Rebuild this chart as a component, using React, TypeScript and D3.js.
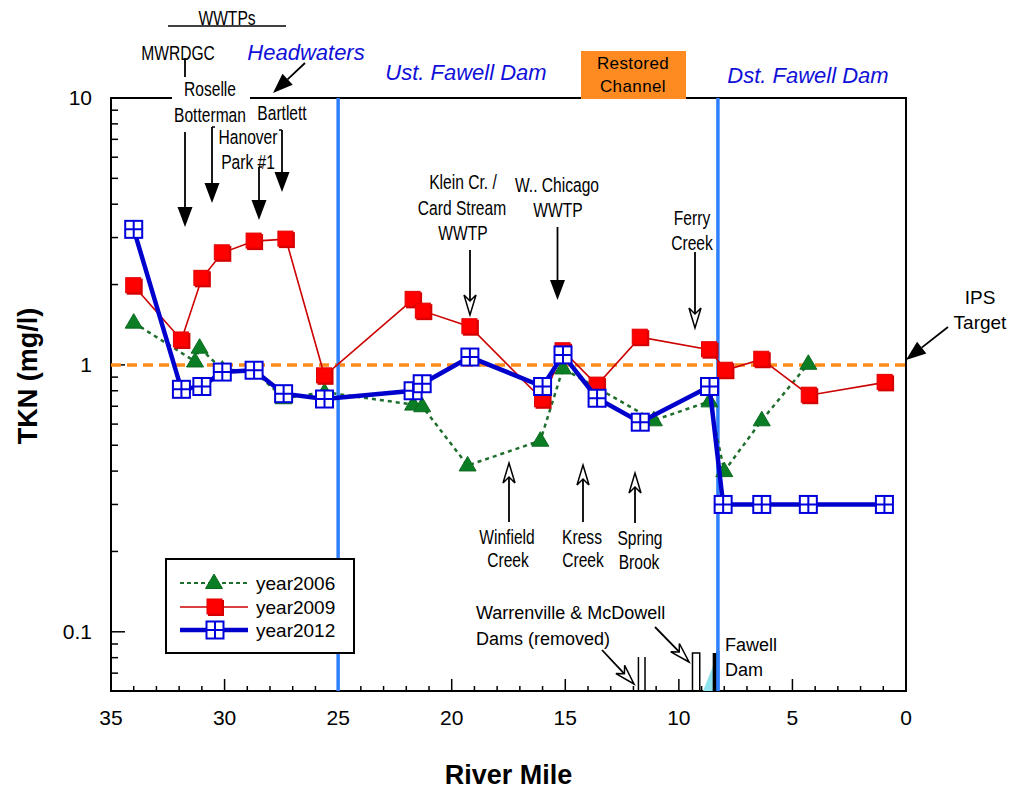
import * as d3 from "d3";
import {useEffect, useRef} from "react";

// TKN by river mile
const miles2006 = [34.0, 31.3, 31.1, 30.1, 28.7, 27.4, 25.6, 21.7, 21.3, 19.3, 16.1, 15.1, 11.1, 8.65, 8.0, 6.35, 4.3];
const tkn2006 = [1.44, 1.03, 1.16, 0.96, 0.95, 0.75, 0.79, 0.71, 0.70, 0.42, 0.52, 0.97, 0.62, 0.73, 0.40, 0.62, 1.01];

const miles2009 = [34.0, 31.9, 31.0, 30.1, 28.7, 27.3, 25.6, 21.7, 21.25, 19.2, 16.0, 15.1, 13.6, 11.7, 8.65, 7.95, 6.35, 4.26, 0.92];
const tkn2009 = [1.98, 1.24, 2.11, 2.63, 2.91, 2.96, 0.91, 1.76, 1.59, 1.39, 0.74, 1.13, 0.84, 1.27, 1.14, 0.955, 1.05, 0.77, 0.86];

const miles2012 = [34.0, 31.9, 31.0, 30.1, 28.7, 27.4, 25.6, 21.7, 21.3, 19.2, 16.0, 15.1, 13.6, 11.7, 8.65, 8.05, 6.35, 4.3, 0.95];
const tkn2012 = [3.22, 0.81, 0.83, 0.94, 0.955, 0.78, 0.745, 0.80, 0.85, 1.07, 0.83, 1.09, 0.75, 0.61, 0.83, 0.30, 0.30, 0.30, 0.30];

const seriesNames = ["year2006", "year2009", "year2012"];
const ipsTarget = 1;
const reachBounds = [25, 8.28];
const warrenvilleMiles = [11.78, 11.49];
const mcdowellMiles = [9.4, 9.08];
const fawellMile = 8.41;
const xTicks = [35, 30, 25, 20, 15, 10, 5, 0];
const yTickLabels = [0.1, 1, 10];

const FONT = "'Liberation Sans', Arial, sans-serif";

export default function App() {
    const svgRef = useRef(null);
    const width = 1012, height = 792;
    const margin = {top: 98, right: 106, bottom: 101, left: 111};

    useEffect(() => {
        if (!svgRef.current) return;
        d3.select(svgRef.current).selectAll("*").remove();
        const svg = d3.select(svgRef.current).style("font-family", FONT);

        const x = d3.scaleLinear().domain([35, 0]).range([margin.left, width - margin.right]);
        const y = d3.scaleLog().domain([0.06, 10]).range([height - margin.bottom, margin.top]);
        const [x0, x1] = x.range();
        const [yb, yt] = y.range();

        // arrows
        const filledArrow = (ax: number, ay: number, bx: number, by: number) => {
            const a = Math.atan2(by - ay, bx - ax), L = 20, W = 7.5;
            const cx = bx - L * Math.cos(a), cy = by - L * Math.sin(a);
            svg.append("line").attr("x1", ax).attr("y1", ay).attr("x2", cx).attr("y2", cy)
                .attr("stroke", "#000").attr("stroke-width", 1.8);
            svg.append("path")
                .attr("d", `M${bx},${by}L${cx - W * Math.sin(a)},${cy + W * Math.cos(a)}L${cx + W * Math.sin(a)},${cy - W * Math.cos(a)}Z`)
                .attr("fill", "#000");
        };
        const openArrow = (ax: number, ay: number, bx: number, by: number) => {
            const a = Math.atan2(by - ay, bx - ax), L = 20, W = 6, N = 6;
            const cx = bx - L * Math.cos(a), cy = by - L * Math.sin(a);
            const nx = bx - (L - N) * Math.cos(a), ny = by - (L - N) * Math.sin(a);
            svg.append("line").attr("x1", ax).attr("y1", ay).attr("x2", nx).attr("y2", ny)
                .attr("stroke", "#000").attr("stroke-width", 1.8);
            svg.append("path")
                .attr("d", `M${bx},${by}L${cx - W * Math.sin(a)},${cy + W * Math.cos(a)}L${nx},${ny}L${cx + W * Math.sin(a)},${cy - W * Math.cos(a)}Z`)
                .attr("fill", "#fff").attr("stroke", "#000").attr("stroke-width", 1.5).attr("stroke-linejoin", "miter");
        };
        const narrow = (tx: number, ty: number, s: string, size = 19.5) =>
            svg.append("text").attr("transform", `translate(${tx},${ty}) scale(0.8,1)`)
                .attr("text-anchor", "middle").attr("dy", "0.35em")
                .style("font-size", `${size}px`).attr("fill", "#000").text(s);

        // plot frame
        svg.append("rect").attr("x", x0).attr("y", yt).attr("width", x1 - x0).attr("height", yb - yt)
            .attr("fill", "#fff").attr("stroke", "#000").attr("stroke-width", 2);

        // x ticks (inward)
        d3.range(0, 36).forEach(m => {
            const len = m % 5 === 0 ? 12 : 5;
            svg.append("line").attr("x1", x(m)).attr("x2", x(m)).attr("y1", yb).attr("y2", yb - len)
                .attr("stroke", "#000").attr("stroke-width", 1.5);
        });
        xTicks.forEach(t => {
            svg.append("text").attr("x", x(t)).attr("y", yb + 27).attr("dy", "0.35em")
                .attr("text-anchor", "middle").style("font-size", "21px").text(t);
        });

        // y ticks (inward)
        const minor: number[] = [];
        [0.01, 0.1, 1].forEach(d => d3.range(1, 10).forEach(k => minor.push(k * d)));
        minor.push(10);
        minor.filter(v => v >= 0.06 && v <= 10).forEach(v => {
            const major = yTickLabels.includes(+v.toFixed(3));
            svg.append("line").attr("x1", x0).attr("x2", x0 + (major ? 14 : 7))
                .attr("y1", y(v)).attr("y2", y(v)).attr("stroke", "#000").attr("stroke-width", 1.5);
        });
        yTickLabels.forEach(t => {
            svg.append("text").attr("x", x0 - 19).attr("y", y(t)).attr("dy", "0.35em")
                .attr("text-anchor", "end").style("font-size", "21px").text(t);
        });

        // IPS target
        svg.append("line").attr("x1", x0).attr("x2", x1).attr("y1", y(ipsTarget)).attr("y2", y(ipsTarget))
            .attr("stroke", "#ff8c1a").attr("stroke-width", 3.5).attr("stroke-dasharray", "10,6");

        // reach boundaries
        reachBounds.forEach(m => {
            svg.append("line").attr("x1", x(m)).attr("x2", x(m)).attr("y1", yt).attr("y2", yb)
                .attr("stroke", "#2f80ff").attr("stroke-width", 3.5);
        });

        // dams
        warrenvilleMiles.forEach(m => {
            svg.append("line").attr("x1", x(m)).attr("x2", x(m)).attr("y1", yb).attr("y2", yb - 34)
                .attr("stroke", "#000").attr("stroke-width", 1.5);
        });
        svg.append("path")
            .attr("d", `M${x(mcdowellMiles[0])},${yb}V${yb - 38}H${x(mcdowellMiles[1])}V${yb}`)
            .attr("fill", "none").attr("stroke", "#000").attr("stroke-width", 1.5);
        svg.append("path")
            .attr("d", `M${x(fawellMile) - 12},${yb}L${x(fawellMile)},${yb - 30}V${yb}Z`)
            .attr("fill", "#8fe3ee");
        svg.append("rect").attr("x", x(fawellMile) - 2.3).attr("y", yb - 38).attr("width", 4.6).attr("height", 38)
            .attr("fill", "#000");
        svg.append("line").attr("x1", x(reachBounds[1])).attr("x2", x(reachBounds[1])).attr("y1", yb - 40).attr("y2", yb)
            .attr("stroke", "#2f80ff").attr("stroke-width", 3.5);

        // series
        const lineGen = d3.line<[number, number]>().x(d => x(d[0])).y(d => y(d[1]));
        const zip = (ms: number[], vs: number[]) => ms.map((m, i) => [m, vs[i]] as [number, number]);
        const d2006 = zip(miles2006, tkn2006);
        const d2009 = zip(miles2009, tkn2009);
        const d2012 = zip(miles2012, tkn2012);

        const triangle = (g: any, cx: number, cy: number) =>
            g.append("path").attr("d", `M${cx},${cy - 9}L${cx + 8.5},${cy + 5.5}L${cx - 8.5},${cy + 5.5}Z`)
                .attr("fill", "#0b7d24").attr("stroke", "#0a6a1e").attr("stroke-width", 1);
        const redSquare = (g: any, cx: number, cy: number) => {
            g.append("rect").attr("x", cx - 7).attr("y", cy - 7).attr("width", 16).attr("height", 16).attr("fill", "#d40000");
            g.append("rect").attr("x", cx - 8).attr("y", cy - 8).attr("width", 15).attr("height", 15)
                .attr("fill", "#ff0000").attr("stroke", "#e00000").attr("stroke-width", 1);
        };
        const gridSquare = (g: any, cx: number, cy: number) => {
            g.append("rect").attr("x", cx - 8.5).attr("y", cy - 8.5).attr("width", 17).attr("height", 17)
                .attr("fill", "#fff").attr("stroke", "#0000dd").attr("stroke-width", 2);
            g.append("path").attr("d", `M${cx - 8.5},${cy}H${cx + 8.5}M${cx},${cy - 8.5}V${cy + 8.5}`)
                .attr("stroke", "#0000dd").attr("stroke-width", 2);
        };

        const g06 = svg.append("g");
        g06.append("path").attr("d", lineGen(d2006)).attr("fill", "none")
            .attr("stroke", "#1f6e2e").attr("stroke-width", 2.5).attr("stroke-dasharray", "4,4");
        d2006.forEach(d => triangle(g06, x(d[0]), y(d[1])));

        const g09 = svg.append("g");
        g09.append("path").attr("d", lineGen(d2009)).attr("fill", "none")
            .attr("stroke", "#cc0000").attr("stroke-width", 1.6);
        d2009.forEach(d => redSquare(g09, x(d[0]), y(d[1])));

        const g12 = svg.append("g");
        g12.append("path").attr("d", lineGen(d2012)).attr("fill", "none")
            .attr("stroke", "#0000cc").attr("stroke-width", 4.5);
        d2012.forEach(d => gridSquare(g12, x(d[0]), y(d[1])));

        // legend
        const lg = svg.append("g");
        lg.append("rect").attr("x", 166).attr("y", 559).attr("width", 188).attr("height", 94)
            .attr("fill", "#fff").attr("stroke", "#000").attr("stroke-width", 2);
        const rows = [583, 607, 630];
        lg.append("line").attr("x1", 180).attr("x2", 248).attr("y1", rows[0]).attr("y2", rows[0])
            .attr("stroke", "#1f6e2e").attr("stroke-width", 2).attr("stroke-dasharray", "4,3");
        triangle(lg, 214, rows[0]);
        lg.append("line").attr("x1", 180).attr("x2", 248).attr("y1", rows[1]).attr("y2", rows[1])
            .attr("stroke", "#cc0000").attr("stroke-width", 1.6);
        redSquare(lg, 215, rows[1]);
        lg.append("line").attr("x1", 180).attr("x2", 248).attr("y1", rows[2]).attr("y2", rows[2])
            .attr("stroke", "#0000cc").attr("stroke-width", 4.5);
        gridSquare(lg, 215, rows[2]);
        seriesNames.forEach((s, i) => {
            lg.append("text").attr("x", 256).attr("y", rows[i]).attr("dy", "0.35em")
                .style("font-size", "19px").text(s);
        });

        // axis titles
        svg.append("text").attr("x", (x0 + x1) / 2).attr("y", 775).attr("dy", "0.35em").attr("text-anchor", "middle")
            .style("font-size", "27px").style("font-weight", "bold").text("River Mile");
        svg.append("text").attr("transform", `translate(37,376) rotate(-90)`).attr("text-anchor", "middle")
            .style("font-size", "27px").style("font-weight", "bold").text("TKN (mg/l)");

        // reach titles
        const blueTitle = (tx: number, ty: number, s: string) =>
            svg.append("text").attr("x", tx).attr("y", ty).attr("dy", "0.35em").attr("text-anchor", "middle")
                .style("font-size", "22px").style("font-style", "italic").attr("fill", "#1010d8").text(s);
        blueTitle(306, 52, "Headwaters");
        blueTitle(466, 72, "Ust. Fawell Dam");
        blueTitle(808, 75, "Dst. Fawell Dam");

        svg.append("rect").attr("x", 581).attr("y", 51).attr("width", 105).attr("height", 48).attr("fill", "#fd8b22");
        ["Restored", "Channel"].forEach((s, i) => {
            svg.append("text").attr("x", 633).attr("y", 63 + i * 23.5).attr("dy", "0.35em").attr("text-anchor", "middle")
                .style("font-size", "17px").style("letter-spacing", "0.4px").text(s);
        });

        // WWTP header
        narrow(227, 18, "WWTPs");
        svg.append("line").attr("x1", 168).attr("x2", 286).attr("y1", 26).attr("y2", 26)
            .attr("stroke", "#000").attr("stroke-width", 1.5);

        // upstream WWTP arrows
        svg.append("rect").attr("x", 172).attr("y", 78).attr("width", 78).attr("height", 24).attr("fill", "#fff");
        svg.append("line").attr("x1", 185).attr("x2", 185).attr("y1", 58).attr("y2", 77)
            .attr("stroke", "#000").attr("stroke-width", 1.8);
        filledArrow(185, 132, 185, 227);
        filledArrow(212, 127, 212, 203);
        svg.append("line").attr("x1", 212).attr("x2", 215).attr("y1", 127).attr("y2", 127).attr("stroke", "#000").attr("stroke-width", 1.5);
        filledArrow(259, 167, 259, 220);
        svg.append("line").attr("x1", 259).attr("x2", 262).attr("y1", 167).attr("y2", 167).attr("stroke", "#000").attr("stroke-width", 1.5);
        filledArrow(282, 130, 282, 192);
        svg.append("line").attr("x1", 279).attr("x2", 282).attr("y1", 130).attr("y2", 130).attr("stroke", "#000").attr("stroke-width", 1.5);
        narrow(178, 53, "MWRDGC");
        narrow(210, 89, "Roselle");
        narrow(210, 115, "Botterman");
        narrow(248, 137, "Hanover");
        narrow(248, 162, "Park #1");
        narrow(282, 113, "Bartlett");
        filledArrow(305, 63, 273, 93);

        // mid-river sources
        narrow(463, 182, "Klein Cr. /");
        narrow(462, 208, "Card Stream");
        narrow(463, 233, "WWTP");
        openArrow(470, 250, 470, 315);
        narrow(557, 185, "W.. Chicago");
        narrow(558, 210, "WWTP");
        filledArrow(557.5, 227, 557.5, 300);
        narrow(692, 218, "Ferry");
        narrow(692, 243, "Creek");
        openArrow(695, 252, 695, 328);

        narrow(507, 537, "Winfield");
        narrow(508, 560, "Creek");
        openArrow(509, 522, 509, 463);
        narrow(582, 537, "Kress");
        narrow(583, 560, "Creek");
        openArrow(583, 522, 583, 465);
        narrow(640, 538, "Spring");
        narrow(639, 562, "Brook");
        openArrow(635, 523, 635, 473);

        // IPS target
        ["IPS", "Target"].forEach((s, i) => {
            svg.append("text").attr("x", 980).attr("y", 297 + i * 25).attr("dy", "0.35em").attr("text-anchor", "middle")
                .style("font-size", "19px").text(s);
        });
        filledArrow(948, 327, 906, 360);

        // dams
        svg.append("text").attr("x", 476).attr("y", 613).attr("dy", "0.35em").style("font-size", "18px")
            .text("Warrenville & McDowell");
        svg.append("text").attr("x", 476).attr("y", 639).attr("dy", "0.35em").style("font-size", "18px")
            .text("Dams (removed)");
        openArrow(602, 650, 634, 684);
        openArrow(655, 627, 689, 662);
        ["Fawell", "Dam"].forEach((s, i) => {
            svg.append("text").attr("x", 725).attr("y", 645 + i * 25).attr("dy", "0.35em")
                .style("font-size", "18px").text(s);
        });
    }, []);

    return (
        <svg ref={svgRef} width={width} height={height}
             style={{position: "absolute", left: 0, top: 0, background: "#fff"}}></svg>
    );
}
